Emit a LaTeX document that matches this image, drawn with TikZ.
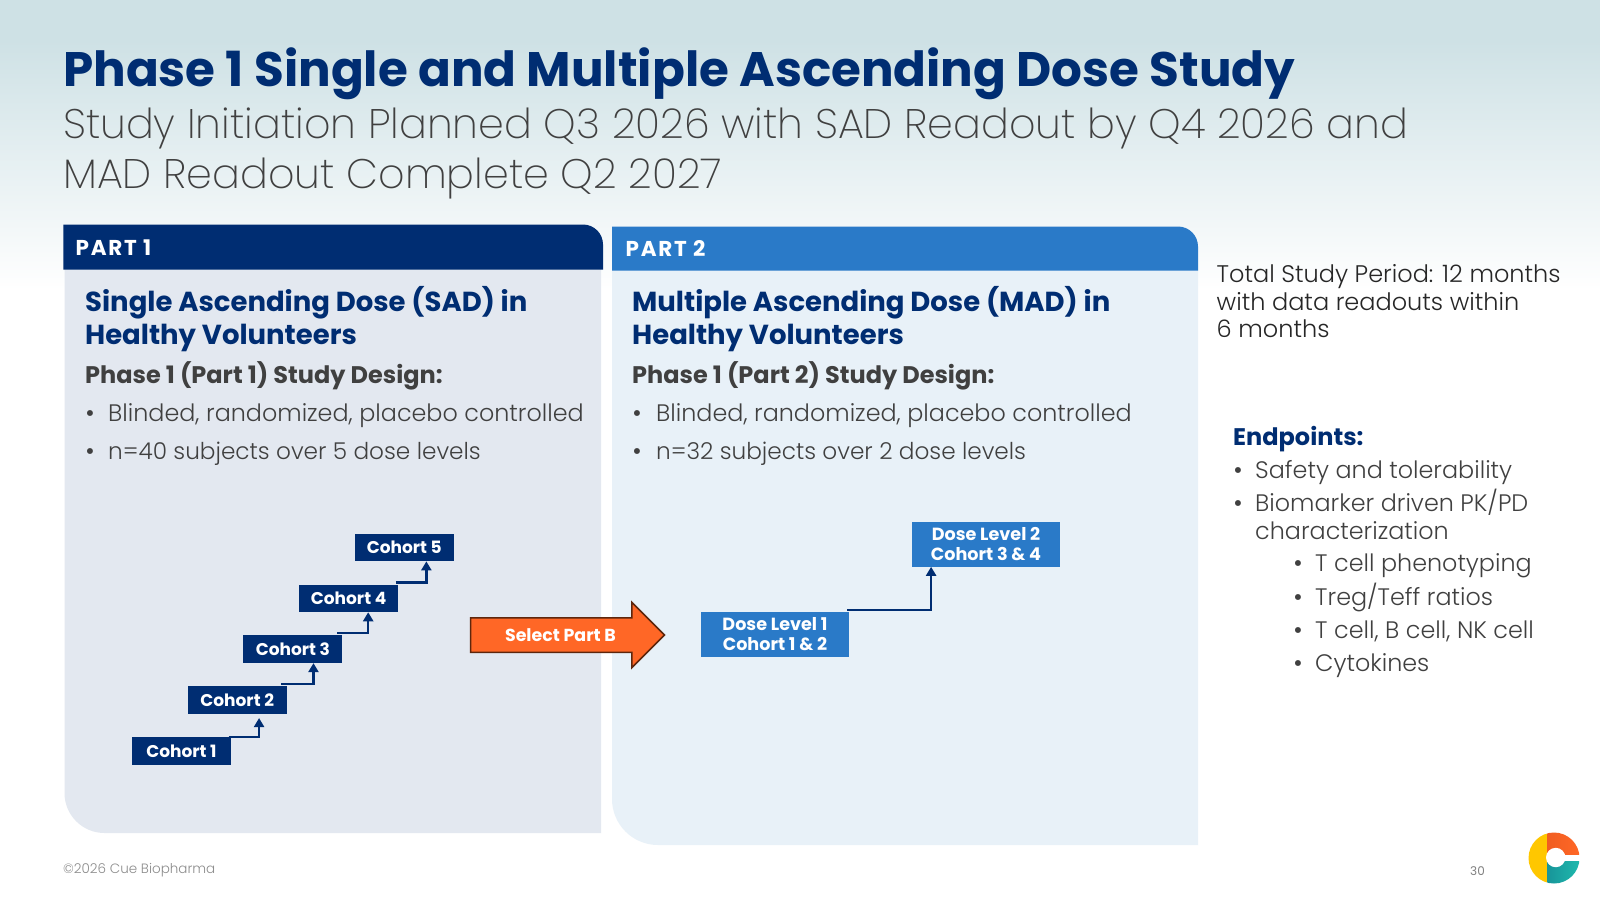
\documentclass[tikz,border=0pt]{standalone}
\usepackage{fontspec}
\setmainfont{Poppins}
\newfontfamily\lightfam{Poppins Light}
\newfontfamily\thinfam{Poppins ExtraLight}
\usetikzlibrary{arrows.meta,positioning,calc,shapes.arrows}
\definecolor{cuenavy}{HTML}{002D72}
\definecolor{cueblue}{HTML}{2A7AC8}
\definecolor{cueorange}{HTML}{FF6726}
\definecolor{cuebrown}{HTML}{5E260C}
\definecolor{panelone}{HTML}{E3E8F0}
\definecolor{paneltwo}{HTML}{E8F1F8}
\definecolor{skytop}{HTML}{CEE1E5}
\definecolor{bodygray}{HTML}{404040}
\definecolor{logoyellow}{HTML}{FFC700}
\definecolor{logored}{HTML}{E8581F}
\definecolor{logoteal}{HTML}{1FB9AD}
\definecolor{logodeep}{HTML}{13808E}
\tikzset{
  label base/.style={anchor=base west,inner sep=0pt},
  pagetitle/.style={label base,text=cuenavy,font=\fontsize{48.4}{48.5}\selectfont\bfseries},
  subtitle/.style={label base,text=bodygray,font=\fontsize{41.3}{41}\thinfam},
  parthead/.style={label base,text=white,font=\fontsize{21.5}{21}\selectfont\bfseries\addfontfeature{LetterSpace=8}},
  panelhead/.style={label base,text=cuenavy,font=\fontsize{27.5}{28}\selectfont\bfseries},
  designhead/.style={label base,text=bodygray,font=\fontsize{24}{24}\selectfont\bfseries},
  bodyline/.style={label base,text=bodygray,font=\fontsize{23.85}{24}\lightfam},
  shortline/.style={label base,text=bodygray,font=\fontsize{23.2}{24}\lightfam},
  sideline/.style={label base,text=black!85,font=\fontsize{24}{24}\lightfam},
  dot/.style={label base,text=bodygray,font=\fontsize{24}{24}\selectfont},
  cohortbox/.style={fill=cuenavy,text=white,font=\fontsize{17}{17}\selectfont\bfseries,
    minimum width=99pt,minimum height=27.5pt,inner sep=0pt},
  dosebox/.style={fill=cueblue,text=white,align=center,font=\fontsize{17.6}{20.4}\selectfont\bfseries,
    minimum width=148pt,minimum height=44.6pt,inner sep=0pt},
  stepline/.style={draw=cuenavy,line width=2.4pt,-{Triangle[length=9pt,width=10pt]}},
}
\begin{document}
\begin{tikzpicture}[x=1pt,y=-1pt]
\useasboundingbox (0,0) rectangle (1600,900);

% Sky band
\fill[white] (0,0) rectangle (1600,900);
\fill[skytop] (0,0) rectangle (1600,40);
\shade[top color=skytop,bottom color=white] (0,40) rectangle (1600,290);

% Title
\node[pagetitle] (title) at (63,86) {Phase 1 Single and Multiple Ascending Dose Study};
\node[subtitle] (subone) at (63,138) {Study Initiation Planned Q3 2026 with SAD Readout by Q4 2026 and};
\node[subtitle] (subtwo) at (63,188) {MAD Readout Complete Q2 2027};

% Panels
\fill[panelone] (64.5,269) -- (601,269) -- (601,833) [rounded corners=40pt] -- (64.5,833) [sharp corners] -- cycle;
\fill[paneltwo] (612,270) -- (1198,270) -- (1198,845) [rounded corners=46pt] -- (612,845) [sharp corners] -- cycle;
\fill[cuenavy] (63.3,269.5) -- (63.3,224.5) [rounded corners=20pt] -- (603,224.5) [sharp corners] -- (603,269.5) -- cycle;
\fill[cueblue] (612,270.5) -- (612,226.5) [rounded corners=20pt] -- (1198,226.5) [sharp corners] -- (1198,270.5) -- cycle;
\node[parthead] (partone) at (75.5,255) {PART 1};
\node[parthead] (parttwo) at (625.5,256.5) {PART 2};

% Part 1 text
\node[panelhead] (sadone) at (85,311) {Single Ascending Dose (SAD) in};
\node[panelhead] (sadtwo) at (85,344) {Healthy Volunteers};
\node[designhead] (sadhead) at (85,383) {Phase 1 (Part 1) Study Design:};
\node[dot] (sadbulone) at (85,421) {•};
\node[bodyline] (sadlineone) at (108,421) {Blinded, randomized, placebo controlled};
\node[dot] (sadbultwo) at (85,459) {•};
\node[shortline] (sadlinetwo) at (108,459) {n=40 subjects over 5 dose levels};

% Part 2 text
\node[panelhead] (madone) at (632,311) {Multiple Ascending Dose (MAD) in};
\node[panelhead] (madtwo) at (632,344) {Healthy Volunteers};
\node[designhead] (madhead) at (632,383) {Phase 1 (Part 2) Study Design:};
\node[dot] (madbulone) at (632,421) {•};
\node[bodyline] (madlineone) at (656,421) {Blinded, randomized, placebo controlled};
\node[dot] (madbultwo) at (632,459) {•};
\node[shortline] (madlinetwo) at (656,459) {n=32 subjects over 2 dose levels};

% Cohort ladder
\foreach \k in {1,...,5}{
  \node[cohortbox] (cohort\k) at (181.5+\k*55.7-55.7,751-\k*50.9+50.9) {Cohort \k};
}
\foreach \k/\n/\back/\up/\gap/\frac in {1/2/2.6/0/4/0.72,2/3/5.5/2/0/0.707,3/4/5.5/2/0/0.697,4/5/2.5/2/0/0.722}{
  \draw[stepline,shorten >=\gap pt] ([xshift=-\back pt,yshift=\up pt]cohort\k.north east) -| ($(cohort\n.south west)!\frac!(cohort\n.south east)$);
}

% Selection arrow
\node[single arrow,fill=cueorange,draw=cuebrown,line width=1.5pt,minimum height=194pt,minimum width=64pt,
  single arrow head extend=15.5pt,single arrow head indent=0pt,inner sep=0pt,text height=22pt,text depth=11pt,
  anchor=tip] (selectarrow) at (665.6,635) {};
\node[inner sep=0pt,text=white,font=\fontsize{17.4}{17.4}\selectfont\bfseries] (selectlabel) at (560.5,635) {Select Part B};

% Dose levels
\node[dosebox] (doseone) at (775,634.3) {Dose Level 1\\Cohort 1 \& 2};
\node[dosebox] (dosetwo) at (986,544.3) {Dose Level 2\\Cohort 3 \& 4};
\draw[stepline] ([xshift=-2pt,yshift=2pt]doseone.north east) -| ($(dosetwo.south west)!0.13!(dosetwo.south east)$);

% Right column
\node[sideline] (totalone) at (1216.5,282.5) {Total Study Period: 12 months};
\node[sideline] (totaltwo) at (1216.5,310) {with data readouts within};
\node[sideline] (totalthree) at (1216.5,337.5) {6 months};
\node[label base,text=cuenavy,font=\fontsize{24}{24}\selectfont\bfseries] (endhead) at (1233,445) {Endpoints:};
\foreach \nm/\y/\txt in {safety/478/{Safety and tolerability},biomarker/511/{Biomarker driven PK/PD}}{
  \node[dot] (\nm bul) at (1233,\y) {•};
  \node[bodyline] (\nm) at (1255,\y) {\txt};
}
\node[bodyline] (charact) at (1255,539) {characterization};
\foreach \nm/\y/\txt in {pheno/571.5/{T cell phenotyping},ratios/605/{Treg/Teff ratios},cells/638/{T cell, B cell, NK cell},cyto/671/{Cytokines}}{
  \node[dot] (\nm bul) at (1293,\y) {•};
  \node[bodyline] (\nm) at (1315,\y) {\txt};
}

% Footer
\node[label base,text=gray!90,font=\fontsize{13.5}{14}\lightfam] (copyright) at (63,873) {©2026 Cue Biopharma};
\node[label base,text=gray,font=\fontsize{12}{12}\selectfont] (pagenum) at (1470,875) {30};

% Logo
\begin{scope}
  \clip (1520,825) rectangle (1547,890);
  \fill[logoyellow] (1554,858) circle (25.5);
\end{scope}
\begin{scope}
  \clip (1547,825) rectangle (1585,854);
  \shade[left color=logored,right color=cueorange] (1554,858) circle (25.5);
\end{scope}
\begin{scope}
  \clip (1547,861) rectangle (1585,890);
  \shade[left color=logodeep,right color=logoteal] (1554,858) circle (25.5);
\end{scope}
\fill[white] (1555.7,857.5) circle (9.7);
\end{tikzpicture}
\end{document}
